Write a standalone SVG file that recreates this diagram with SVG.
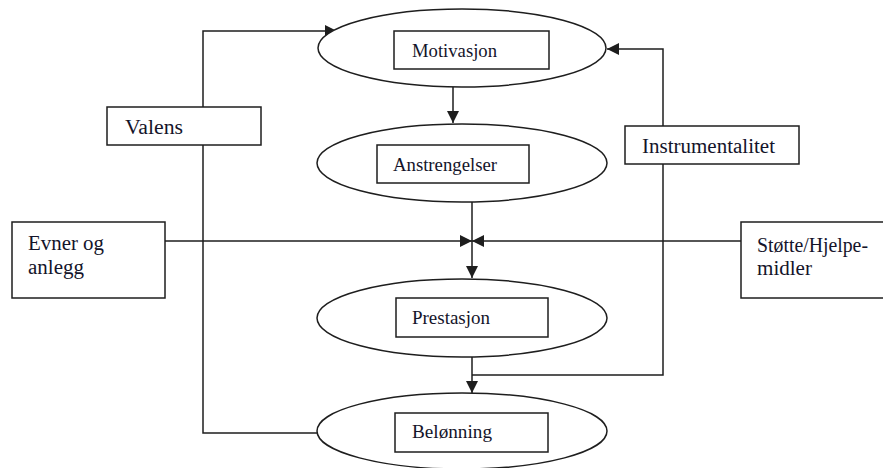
<svg xmlns="http://www.w3.org/2000/svg" width="883" height="468" viewBox="0 0 883 468">
  <style>
    .shape { fill: #fff; stroke: #1e1e1e; stroke-width: 1.5; }
    .wire { fill: none; stroke: #1e1e1e; stroke-width: 1.5; }
    .label { font-family: "Liberation Serif", "Times New Roman", serif; font-size: 19px; fill: #14142a; }
    .side { font-size: 20px; }
  </style>
  <defs>
    <marker id="arrow" markerUnits="userSpaceOnUse" markerWidth="13" markerHeight="12" refX="12" refY="6" orient="auto">
      <path d="M0,0 L12,6 L0,12 z" fill="#1e1e1e"/>
    </marker>
  </defs>
  <rect width="883" height="468" fill="#fff"/>

  <!-- connectors -->
  <g id="connectors">
    <!-- Valens loop: Belønning back to Motivasjon -->
    <path class="wire" d="M318,433 H203 V31 H337" marker-end="url(#arrow)"/>
    <!-- Instrumentalitet loop: Prestasjon output back to Motivasjon -->
    <path class="wire" d="M472,375 H663 V49 H607" marker-end="url(#arrow)"/>
    <!-- main chain -->
    <path class="wire" d="M453,87 V123" marker-end="url(#arrow)"/>
    <path class="wire" d="M472,202 V278" marker-end="url(#arrow)"/>
    <path class="wire" d="M472,357 V393" marker-end="url(#arrow)"/>
    <!-- side inputs -->
    <path class="wire" d="M165,241 H472" marker-end="url(#arrow)"/>
    <path class="wire" d="M741,241 H472" marker-end="url(#arrow)"/>
  </g>

  <g id="motivasjon">
    <ellipse class="shape" cx="462" cy="48" rx="144" ry="39"/>
    <rect class="shape" x="394" y="31" width="155" height="38"/>
    <text class="label" x="412" y="57" textLength="85" lengthAdjust="spacingAndGlyphs">Motivasjon</text>
  </g>

  <g id="anstrengelser">
    <ellipse class="shape" cx="462" cy="163" rx="145" ry="39"/>
    <rect class="shape" x="377" y="145" width="152" height="38"/>
    <text class="label" x="393" y="171" textLength="104" lengthAdjust="spacingAndGlyphs">Anstrengelser</text>
  </g>

  <g id="prestasjon">
    <ellipse class="shape" cx="462" cy="318" rx="145" ry="39"/>
    <rect class="shape" x="396" y="298" width="152" height="39"/>
    <text class="label" x="412" y="324" textLength="78" lengthAdjust="spacingAndGlyphs">Prestasjon</text>
  </g>

  <g id="belonning">
    <ellipse class="shape" cx="462" cy="431" rx="145" ry="38"/>
    <rect class="shape" x="395" y="413" width="153" height="39"/>
    <text class="label" x="412" y="438" textLength="80" lengthAdjust="spacingAndGlyphs">Belønning</text>
  </g>

  <g id="valens">
    <rect class="shape" x="107" y="107" width="154" height="38"/>
    <text class="label side" x="125" y="134" textLength="58" lengthAdjust="spacingAndGlyphs">Valens</text>
  </g>

  <g id="instrumentalitet">
    <rect class="shape" x="625" y="126" width="174" height="38"/>
    <text class="label side" x="642" y="153" textLength="133" lengthAdjust="spacingAndGlyphs">Instrumentalitet</text>
  </g>

  <g id="evner">
    <rect class="shape" x="12" y="222" width="153" height="76"/>
    <text class="label side" x="28" y="250" textLength="76" lengthAdjust="spacingAndGlyphs">Evner og</text>
    <text class="label side" x="28" y="274" textLength="56" lengthAdjust="spacingAndGlyphs">anlegg</text>
  </g>

  <g id="stotte">
    <rect class="shape" x="741" y="222" width="160" height="76"/>
    <text class="label side" x="757" y="252" textLength="111" lengthAdjust="spacingAndGlyphs">Støtte/Hjelpe-</text>
    <text class="label side" x="757" y="275" textLength="55" lengthAdjust="spacingAndGlyphs">midler</text>
  </g>
</svg>
